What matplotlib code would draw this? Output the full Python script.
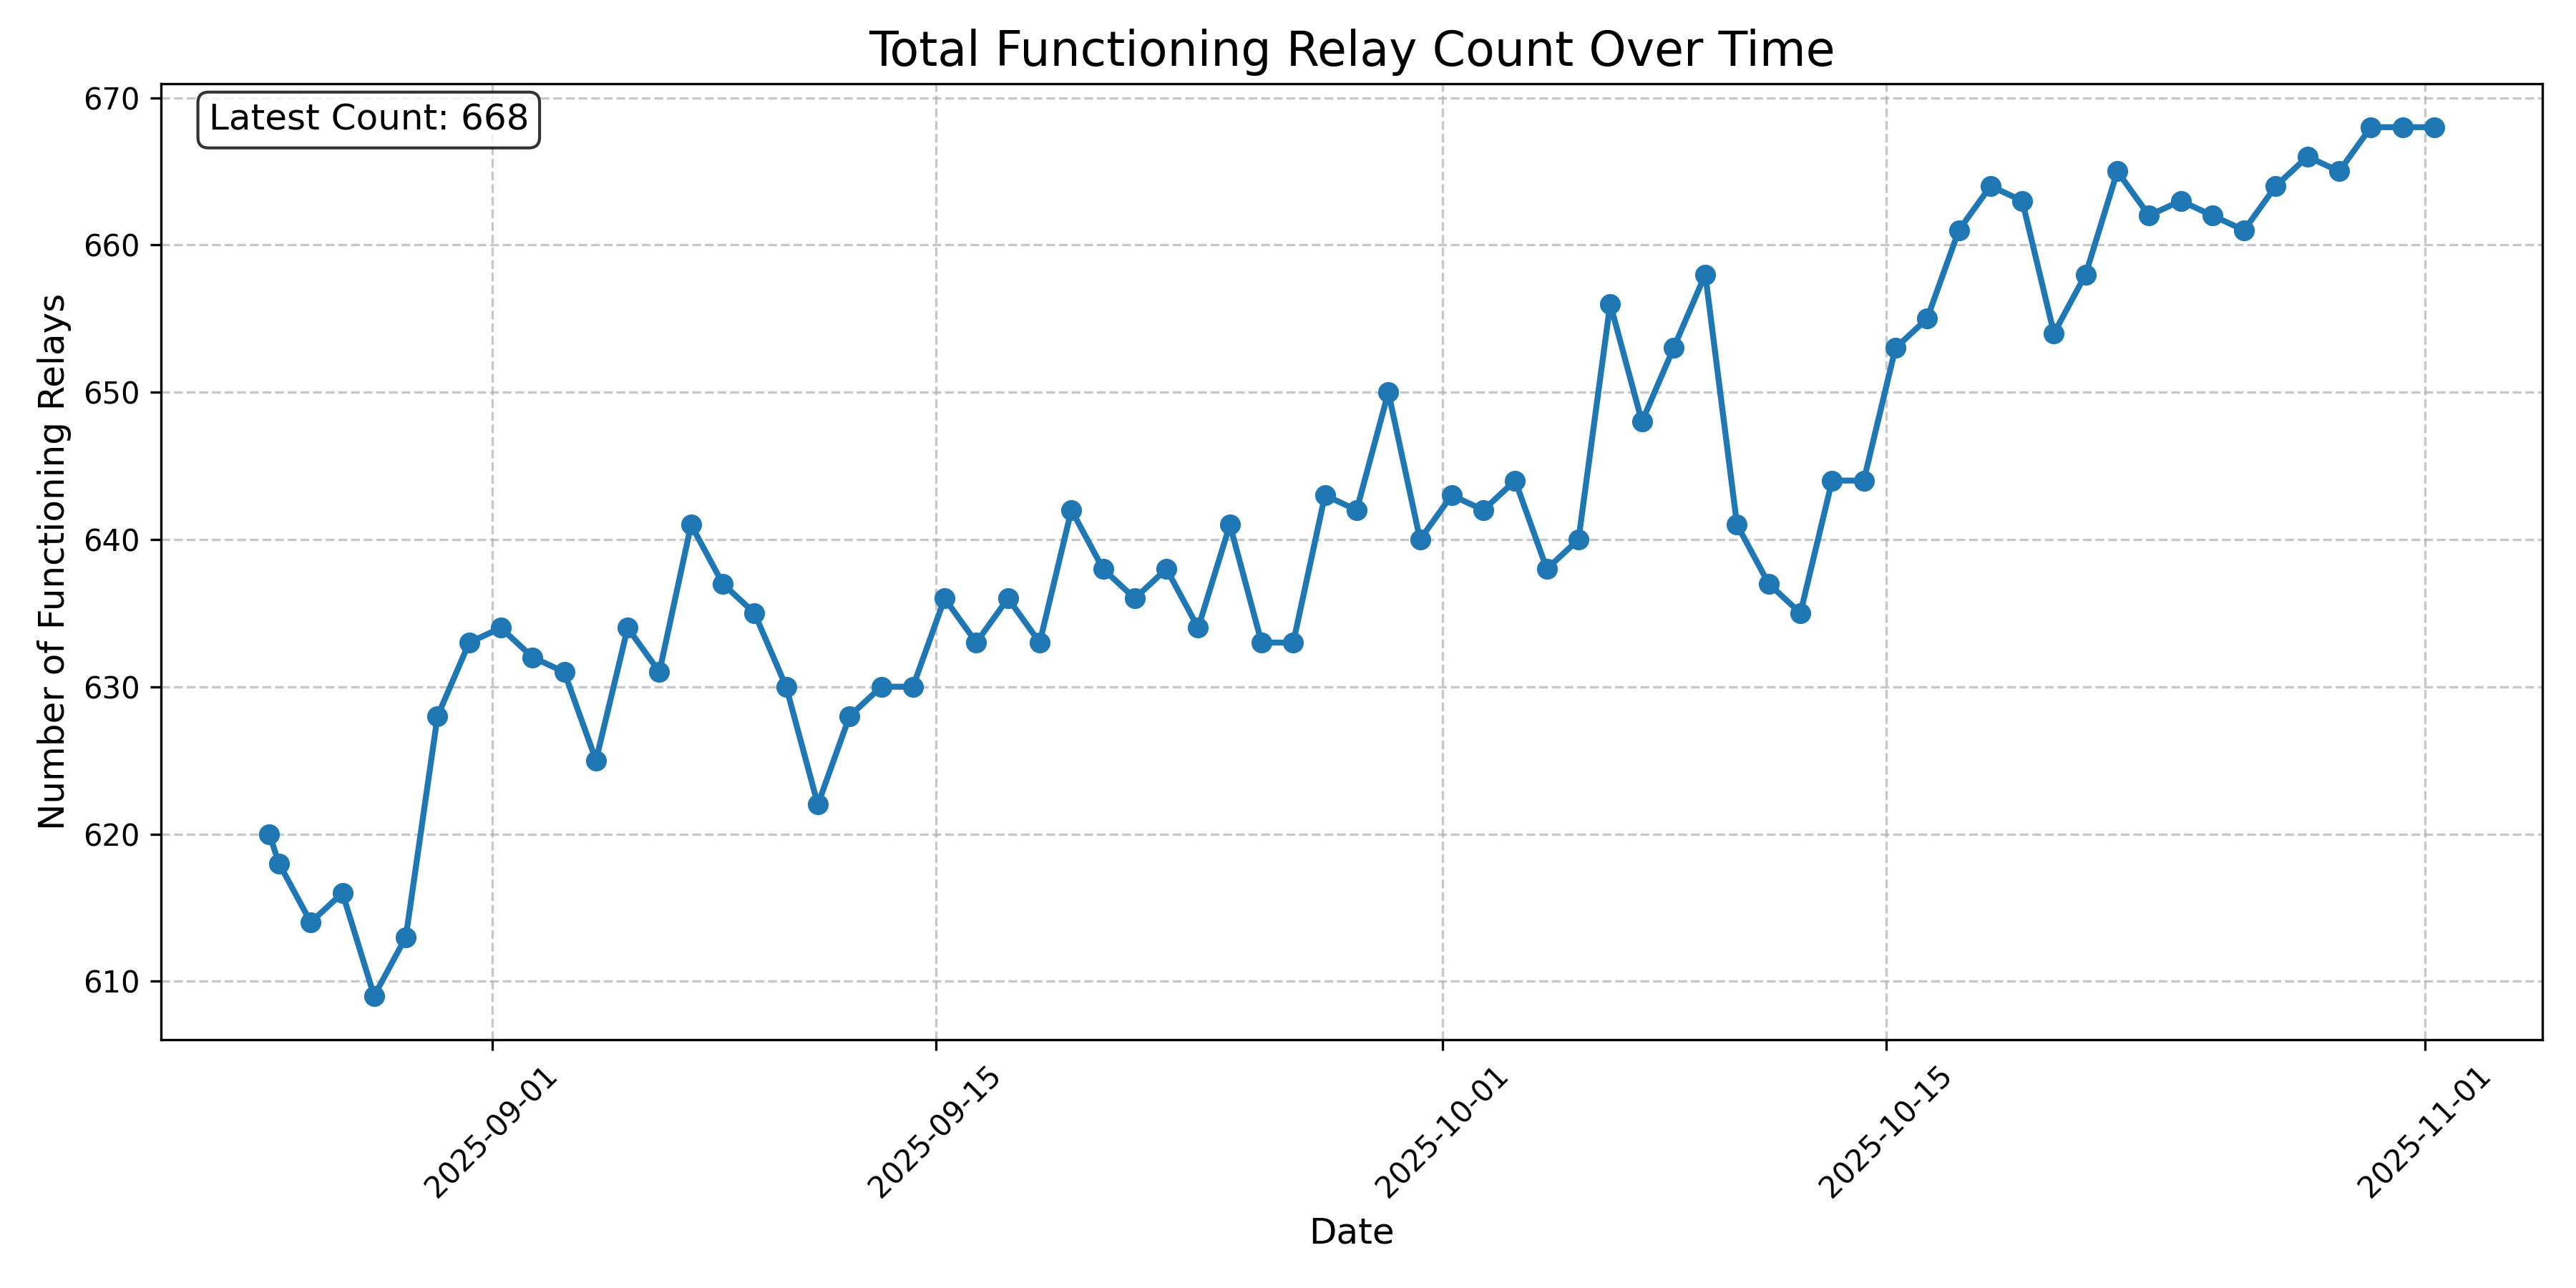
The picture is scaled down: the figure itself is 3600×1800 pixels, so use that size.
import matplotlib
matplotlib.use("Agg")
import matplotlib.pyplot as plt
import pandas as pd

# first snapshot came in late the night before, then one per day ~06:45 UTC
first_stamp = ["2025-08-24 23:20"]
daily_start = "2025-08-25 06:45"
daily_end = "2025-11-01 06:45"

relay_counts = [
    620, 618, 614, 616, 609, 613, 628, 633, 634, 632,
    631, 625, 634, 631, 641, 637, 635, 630, 622, 628,
    630, 630, 636, 633, 636, 633, 642, 638, 636, 638,
    634, 641, 633, 633, 643, 642, 650, 640, 643, 642,
    644, 638, 640, 656, 648, 653, 658, 641, 637, 635,
    644, 644, 653, 655, 661, 664, 663, 654, 658, 665,
    662, 663, 662, 661, 664, 666, 665, 668, 668, 668,
]

dates = pd.to_datetime(first_stamp).append(
    pd.date_range(daily_start, daily_end, freq="D"))

df = pd.DataFrame({"date": dates, "count": relay_counts})


fig, ax = plt.subplots(figsize=(12, 6), dpi=300)

ax.plot(df["date"], df["count"], marker="o", linewidth=2, markersize=6)

ax.set_title("Total Functioning Relay Count Over Time", fontsize=16)
ax.set_xlabel("Date", fontsize=12)
ax.set_ylabel("Number of Functioning Relays", fontsize=12)
ax.grid(True, linestyle="--", alpha=0.7)
plt.xticks(rotation=45)

latest = df["count"].iloc[-1]
ax.text(0.02, 0.98, f"Latest Count: {latest}", transform=ax.transAxes,
        fontsize=12, verticalalignment="top",
        bbox=dict(boxstyle="round", facecolor="white", alpha=0.8))

# same box tight_layout gave in the original run
fig.subplots_adjust(left=0.0625, right=0.987, top=0.935, bottom=0.193)
plt.savefig("out.png", dpi=300)
